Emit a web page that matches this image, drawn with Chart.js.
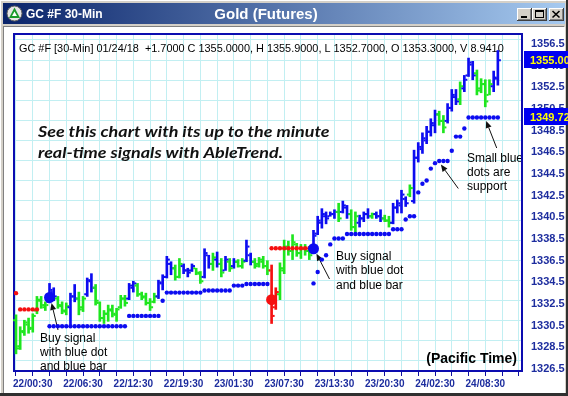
<!DOCTYPE html>
<html><head><meta charset="utf-8">
<script src="https://cdn.jsdelivr.net/npm/chart.js@4.4.1/dist/chart.umd.min.js"></script>
<style>
html,body{margin:0;padding:0;background:#d4d0c8;overflow:hidden;}
#box{position:relative;width:568px;height:396px;}
canvas{display:block;}
</style></head>
<body><div id="box"><canvas id="c" width="568" height="396"></canvas></div>
<script>
// ---------------- data ----------------
const timeLabelIdx = [4,16,28,40,52,64,76,88,100,112];
const timeLabels = ['22/00:30','22/06:30','22/12:30','22/19:30','23/01:30','23/07:30','23/13:30','23/20:30','24/02:30','24/08:30'];
const priceTicks = [1326.5,1328.5,1330.5,1332.5,1334.5,1336.5,1338.5,1340.5,1342.5,1344.5,1346.5,1348.5,1350.5,1352.5,1354.5,1356.5];

// bar colour: g = green, b = blue, r = red
const trend = ('gggggggg'+'bb'+'ggg'+'bb'+'gg'+'bb'+'gggggggg'+'bb'+'ggggg'+'bbbb'+'gg'+'bbb'+'gg'+'bb'+'g'+'b'+'g'+'b'+'g'+'b'+'gg'+'bb'+'gggg'+'rr'+'gggggggg'+'bbbbbb'+'g'+'bb'+'gg'+'bbb'+'g'+'bb'+'gg'+'bbbb'+'g'+'bbbbbb'+'gg'+'bbb'+'g'+'bbb'+'gggg'+'bb').split('');

const highs = [1331.5,1330.4,1331.0,1331.2,1331.6,1333.2,1333.2,1332.7,1334.4,1334.0,
 1333.2,1332.7,1332.6,1333.5,1334.3,1333.6,1333.2,1334.9,1335.3,1334.3,
 1332.7,1331.9,1332.4,1332.4,1332.1,1333.3,1333.3,1334.4,1334.6,1334.4,
 1333.6,1333.5,1333.0,1333.5,1334.7,1335.2,1336.9,1336.4,1336.1,1336.7,
 1336.2,1335.8,1336.2,1335.8,1335.5,1337.6,1337.0,1337.2,1337.3,1336.7,
 1336.9,1336.7,1336.7,1336.6,1336.7,1338.4,1337.2,1336.7,1336.8,1336.9,
 1336.5,1336.1,1334.0,1336.3,1338.4,1338.3,1338.9,1338.1,1338.0,1338.0,
 1337.8,1339.3,1340.6,1341.3,1341.0,1341.0,1341.2,1341.8,1342.0,1341.6,
 1341.2,1341.0,1340.7,1341.0,1341.3,1340.9,1341.0,1341.2,1340.7,1340.6,
 1341.8,1342.1,1343.0,1342.4,1343.5,1346.7,1347.4,1348.3,1348.9,1349.6,
 1350.4,1350.3,1349.9,1351.0,1352.3,1352.3,1353.0,1353.6,1355.2,1354.9,
 1354.1,1353.3,1353.2,1353.2,1354.0,1355.9];
const lows = [1327.9,1328.3,1329.6,1329.8,1329.9,1331.6,1332.1,1331.9,1332.6,1332.8,
 1332.1,1331.6,1331.5,1330.6,1332.7,1331.5,1331.8,1333.2,1333.6,1332.4,
 1330.9,1330.7,1330.9,1331.3,1330.9,1332.1,1332.3,1332.9,1333.6,1333.2,
 1332.9,1332.4,1331.9,1332.6,1333.0,1333.8,1334.9,1335.2,1334.7,1334.9,
 1335.3,1335.0,1335.5,1335.2,1334.4,1334.9,1335.8,1335.6,1335.9,1335.0,
 1335.6,1335.5,1335.8,1335.9,1335.8,1336.4,1336.1,1335.8,1335.9,1335.8,
 1335.2,1330.7,1332.0,1332.9,1335.3,1337.0,1336.6,1336.9,1336.7,1337.0,
 1336.6,1337.3,1338.9,1339.5,1339.9,1340.6,1340.4,1340.1,1340.9,1340.4,
 1339.3,1339.0,1339.6,1340.1,1340.4,1340.4,1340.4,1340.1,1340.1,1339.6,
 1339.9,1340.9,1340.9,1341.5,1342.4,1341.8,1345.6,1346.4,1347.3,1348.0,
 1348.3,1349.0,1348.3,1349.2,1350.3,1350.9,1350.9,1352.1,1353.5,1353.2,
 1351.8,1352.0,1350.7,1351.8,1352.1,1352.7];
const opens = [1331.0,1328.6,1329.9,1330.6,1330.3,1331.9,1332.8,1332.2,1332.7,1333.6,
 1333.0,1332.3,1331.8,1332.2,1333.2,1333.0,1332.2,1333.4,1334.6,1334.0,
 1332.6,1331.2,1331.6,1331.9,1331.5,1332.2,1333.0,1333.0,1334.0,1334.2,
 1333.4,1333.2,1332.6,1332.7,1333.2,1334.4,1335.0,1336.2,1335.8,1335.0,
 1336.0,1335.6,1335.6,1335.8,1335.3,1335.0,1337.0,1336.2,1336.6,1336.2,
 1335.6,1336.4,1336.0,1336.4,1336.0,1336.5,1337.0,1336.4,1336.2,1336.4,
 1336.0,1335.6,1332.2,1333.4,1335.6,1337.6,1337.4,1338.0,1337.2,1337.6,
 1337.4,1337.4,1339.0,1340.0,1340.6,1340.6,1340.8,1341.0,1341.0,1341.4,
 1340.8,1339.6,1340.0,1340.4,1340.8,1340.6,1340.8,1340.6,1340.4,1340.2,
 1340.0,1341.4,1341.6,1342.2,1342.6,1342.0,1346.0,1346.8,1347.6,1348.4,
 1349.0,1350.0,1349.4,1349.4,1350.6,1351.6,1351.4,1352.4,1353.6,1354.6,
 1353.8,1352.4,1352.8,1351.8,1352.6,1353.3];
const closes = [1328.4,1330.0,1330.8,1330.2,1331.4,1332.9,1332.4,1332.4,1333.8,1333.2,
 1332.4,1331.9,1332.3,1333.2,1333.0,1332.0,1333.0,1334.7,1334.0,1332.8,
 1331.2,1331.6,1332.0,1331.6,1332.0,1333.0,1332.6,1334.2,1334.4,1333.4,
 1333.1,1332.6,1332.2,1333.2,1334.5,1335.0,1336.6,1335.8,1335.0,1336.2,
 1335.6,1335.4,1336.0,1335.4,1334.6,1337.2,1336.2,1336.8,1336.2,1335.4,
 1336.6,1335.8,1336.4,1336.0,1336.4,1337.8,1336.4,1336.0,1336.6,1336.0,
 1335.6,1331.4,1333.6,1335.8,1337.8,1337.4,1338.2,1337.2,1337.6,1337.4,
 1337.0,1338.8,1340.2,1340.8,1340.4,1340.8,1341.0,1340.4,1341.6,1340.8,
 1339.6,1340.6,1340.4,1340.8,1340.6,1340.8,1340.6,1340.4,1340.2,1340.0,
 1341.4,1341.8,1342.6,1341.8,1343.2,1346.0,1347.0,1347.8,1348.4,1349.2,
 1350.0,1349.4,1348.8,1350.6,1351.8,1351.2,1352.6,1353.2,1354.8,1353.6,
 1352.2,1352.8,1351.2,1352.8,1353.4,1355.0];

// small blue support dots [bar index, price]
const supportDots = [
 [8,1330.45],[9,1330.45],[10,1330.45],[11,1330.45],[12,1330.45],[13,1330.45],[14,1330.45],[15,1330.45],[16,1330.45],[17,1330.45],
 [18,1330.45],[19,1330.45],[20,1330.45],[21,1330.45],[22,1330.45],[23,1330.45],[24,1330.45],[25,1330.45],[26,1330.45],
 [27,1331.4],[28,1331.4],[29,1331.4],[30,1331.4],[31,1331.4],[32,1331.4],[33,1331.4],[34,1331.4],
 [35,1332.8],
 [36,1333.55],[37,1333.55],[38,1333.55],[39,1333.55],[40,1333.55],[41,1333.55],[42,1333.55],[43,1333.55],[44,1333.55],
 [45,1333.75],[46,1333.75],[47,1333.75],[48,1333.75],[49,1333.75],[50,1333.75],[51,1333.75],
 [52,1334.2],[53,1334.2],[54,1334.2],
 [55,1334.35],[56,1334.35],[57,1334.35],[58,1334.35],[59,1334.35],[60,1334.35],
 [71,1334.4],[72,1335.45],[73,1336.6],[74,1337.0],[75,1338.0],[76,1338.55],[77,1338.55],[78,1338.55],
 [79,1338.96],[80,1338.96],[81,1338.96],[82,1338.96],[83,1338.96],[84,1338.96],[85,1338.96],[86,1338.96],[87,1338.96],[88,1338.96],[89,1338.96],
 [90,1339.4],[91,1339.4],[92,1339.4],
 [93,1340.3],[94,1340.6],[95,1340.6],
 [96,1342.8],[97,1343.6],[98,1343.9],[99,1345.0],[100,1345.5],[101,1345.7],[102,1345.7],[103,1345.7],
 [104,1346.65],[105,1347.95],[106,1347.95],[107,1348.7],
 [108,1349.72],[109,1349.72],[110,1349.72],[111,1349.72],[112,1349.72],[113,1349.72],[114,1349.72],[115,1349.72]
];
// small red resistance dots [bar index, price]
const resistDots = [
 [0,1333.5],[1,1332.0],[2,1332.0],[3,1332.0],[4,1332.0],[5,1332.0],
 [61,1337.65],[62,1337.65],[63,1337.65],[64,1337.65],[65,1337.65],[66,1337.65],[67,1337.65],[68,1337.65],[69,1337.65],[70,1337.65]
];
const buySignals = [[8,1333.1],[71,1337.6]];
const sellSignals = [[61,1332.9]];
const lastPrice = 1355.00;
const supportLevel = 1349.72;

// ---------------- styles ----------------
const COL = {b:'#0c0cf0', g:'#1ee61e', r:'#f51010'};
const AXIS_TXT = '#1d2d9e';

const chrome = {
  id:'chrome',
  beforeDraw(chart){
    const ctx = chart.ctx; ctx.save();
    ctx.fillStyle='#d4d0c8'; ctx.fillRect(0,0,568,396);
    ctx.fillStyle='#ffffff'; ctx.fillRect(0,0,568,1); ctx.fillRect(0,0,1,393);
    ctx.fillStyle='#303030'; ctx.fillRect(0,393,568,3); ctx.fillRect(566,0,2,396);
    const g = ctx.createLinearGradient(3,0,565,0);
    g.addColorStop(0,'#0a246a'); g.addColorStop(1,'#a6caf0');
    ctx.fillStyle=g; ctx.fillRect(3,3,562,21);
    // icon
    ctx.beginPath(); ctx.arc(14.5,13.5,7.5,0,Math.PI*2); ctx.fillStyle='#e6e6e6'; ctx.fill();
    ctx.strokeStyle='#606060'; ctx.lineWidth=1; ctx.stroke();
    ctx.beginPath(); ctx.moveTo(14.5,7.5); ctx.lineTo(9,18); ctx.lineTo(20,18); ctx.closePath(); ctx.fillStyle='#1a9a2a'; ctx.fill();
    ctx.beginPath(); ctx.moveTo(14.5,11.5); ctx.lineTo(12,16); ctx.lineTo(17,16); ctx.closePath(); ctx.fillStyle='#ffffff'; ctx.fill();
    // title text
    ctx.fillStyle='#ffffff'; ctx.textBaseline='alphabetic';
    ctx.font='bold 12px Arial'; ctx.textAlign='left'; ctx.fillText('GC #F 30-Min',26,18);
    ctx.font='bold 15px Arial'; ctx.textAlign='center'; ctx.fillText('Gold (Futures)',266,19);
    // buttons
    const btn=(x)=>{ctx.fillStyle='#d4d0c8';ctx.fillRect(x,8,15,13);
      ctx.fillStyle='#ffffff';ctx.fillRect(x,8,14,1);ctx.fillRect(x,8,1,12);
      ctx.fillStyle='#404040';ctx.fillRect(x,20,15,1);ctx.fillRect(x+14,8,1,13);
      ctx.fillStyle='#808080';ctx.fillRect(x+1,19,13,1);ctx.fillRect(x+13,9,1,11);};
    btn(517);btn(532);btn(549);
    ctx.fillStyle='#000';
    ctx.fillRect(521,16,6,2);
    ctx.strokeStyle='#000'; ctx.lineWidth=1; ctx.strokeRect(535.5,10.5,8,7); ctx.fillRect(536,11,8,1);
    ctx.lineWidth=1.6; ctx.beginPath(); ctx.moveTo(552.5,11); ctx.lineTo(559.5,17.5); ctx.moveTo(559.5,11); ctx.lineTo(552.5,17.5); ctx.stroke();
    // client area
    ctx.fillStyle='#808080'; ctx.fillRect(3,26,561,1); ctx.fillRect(3,26,1,367);
    ctx.fillStyle='#ffffff'; ctx.fillRect(4,27,561,366);
    ctx.restore();
  }
};

function arrow(ctx,x1,y1,x2,y2){
  const a=Math.atan2(y2-y1,x2-x1), L=7, W=3;
  const bx=x2-L*Math.cos(a), by=y2-L*Math.sin(a);
  ctx.strokeStyle='#111'; ctx.fillStyle='#111'; ctx.lineWidth=1;
  ctx.beginPath(); ctx.moveTo(x1,y1); ctx.lineTo(bx,by); ctx.stroke();
  ctx.beginPath(); ctx.moveTo(x2,y2);
  ctx.lineTo(bx+W*Math.sin(a), by-W*Math.cos(a));
  ctx.lineTo(bx-W*Math.sin(a), by+W*Math.cos(a)); ctx.closePath(); ctx.fill();
}

const texts = {
  id:'texts',
  beforeDatasetsDraw(chart){
    const ctx=chart.ctx, xs=chart.scales.x, ys=chart.scales.y, a=chart.chartArea;
    ctx.save();
    ctx.textAlign='left'; ctx.textBaseline='alphabetic'; ctx.fillStyle='#000';
    ctx.font='10.9px Arial';
    ctx.fillText('GC #F [30-Min] 01/24/18  +1.7000 C 1355.0000, H 1355.9000, L 1352.7000, O 1353.3000, V 8.9410',19,51.5);
    // italic promo text
    ctx.font='italic bold 16px Lato';
    const l1='See this chart with its up to the minute', l2='real-time signals with AbleTrend.';
    const sc = 245/ctx.measureText(l2).width;
    ctx.fillStyle='#111';
    [[l1,137],[l2,158]].forEach(([t,y])=>{ctx.save();ctx.translate(38,y);ctx.scale(sc,1);ctx.fillText(t,0,0);ctx.restore();});
    // annotations
    ctx.fillStyle='#000'; ctx.font='12px Arial';
    ['Buy signal','with blue dot','and blue bar'].forEach((t,i)=>ctx.fillText(t,40,341.5+i*14.3));
    ['Buy signal','with blue dot','and blue bar'].forEach((t,i)=>ctx.fillText(t,336,260+i*14.3));
    ['Small blue','dots are','support'].forEach((t,i)=>ctx.fillText(t,467,161.7+i*14.3));
    ctx.font='bold 14px Arial'; ctx.textAlign='right';
    ctx.fillText('(Pacific Time)',517,363);
    const p=(i,v)=>[xs.getPixelForValue(i),ys.getPixelForValue(v)];
    let [bx,by]=p(buySignals[0][0],buySignals[0][1]); arrow(ctx,58,330,bx+2,by+5.5);
    [bx,by]=p(buySignals[1][0],buySignals[1][1]); arrow(ctx,329.5,279,bx+3,by+5);
    [bx,by]=p(112.2,supportLevel); arrow(ctx,496.7,148,bx,by+3.5);
    [bx,by]=p(101.4,1345.7); arrow(ctx,458.3,188.5,bx,by+3.5);
    // frame
    ctx.strokeStyle='#0c0cb0'; ctx.lineWidth=2;
    ctx.strokeRect(a.left,a.top,a.right-a.left,a.bottom-a.top);
    ctx.restore();
  }
};

const ohlcTicks = {
  id:'ohlcTicks',
  afterDatasetDraw(chart,args){
    if(args.index!==0) return;
    const ctx=chart.ctx, xs=chart.scales.x, ys=chart.scales.y;
    ctx.save();
    for(let i=0;i<highs.length;i++){
      const px=xs.getPixelForValue(i);
      ctx.fillStyle=COL[trend[i]];
      ctx.fillRect(px-3, ys.getPixelForValue(opens[i])-1, 2, 2);
      ctx.fillRect(px+1, ys.getPixelForValue(closes[i])-1, 2, 2);
    }
    ctx.restore();
  }
};

const priceBoxes = {
  id:'priceBoxes',
  afterDraw(chart){
    const ctx=chart.ctx, ys=chart.scales.y, a=chart.chartArea;
    ctx.save();
    [[lastPrice,'1355.00'],[supportLevel,'1349.72']].forEach(([v,t])=>{
      const y=ys.getPixelForValue(v);
      ctx.fillStyle='#0000f0'; ctx.fillRect(a.right+2,Math.round(y)-9,50,17);
      ctx.fillStyle='#ffff00'; ctx.font='bold 11px Arial'; ctx.textAlign='left'; ctx.textBaseline='middle';
      ctx.fillText(t,530,y+0.5);
    });
    ctx.restore();
  }
};

const xTickVals=[]; for(let v=0;v<=120;v+=4) xTickVals.push(v);
const gridVals=[]; for(let v=-360;v<=-40;v+=20) gridVals.push(v);

new Chart(document.getElementById('c'),{
  type:'scatter',
  data:{datasets:[
    {type:'bar', data:highs.map((h,i)=>({x:i,y:[lows[i],h]})), backgroundColor:trend.map(c=>COL[c]),
     barThickness:2, borderWidth:0, grouped:false, order:5},
    {type:'scatter', data:supportDots.map(d=>({x:d[0],y:d[1]})), pointRadius:2.2, pointBackgroundColor:'#0c0cf0', pointBorderWidth:0, showLine:false, order:2},
    {type:'scatter', data:resistDots.map(d=>({x:d[0],y:d[1]})), pointRadius:2.2, pointBackgroundColor:'#f51010', pointBorderWidth:0, showLine:false, order:2},
    {type:'scatter', data:buySignals.map(d=>({x:d[0],y:d[1]})), pointRadius:5.5, pointBackgroundColor:'#0c0cf0', pointBorderWidth:0, showLine:false, order:1},
    {type:'scatter', data:sellSignals.map(d=>({x:d[0],y:d[1]})), pointRadius:5.5, pointBackgroundColor:'#f51010', pointBorderWidth:0, showLine:false, order:1}
  ]},
  options:{
    responsive:false, animation:false, devicePixelRatio:1,
    layout:{padding:{left:14,top:34,right:0,bottom:0}},
    plugins:{legend:{display:false}, tooltip:{enabled:false}},
    scales:{
      x:{type:'linear', min:-0.477, max:120.76, offset:false,
         afterBuildTicks:s=>{s.ticks=xTickVals.map(v=>({value:v}));},
         afterFit:s=>{s.height=25;},
         ticks:{autoSkip:false, maxRotation:0, minRotation:0, padding:2, color:AXIS_TXT,
                font:{family:'Arial', size:10, weight:'bold'},
                callback:v=>{const k=timeLabelIdx.indexOf(v); return k>=0?timeLabels[k]:'';}},
         grid:{color:'#c2eff2', tickColor:'#1010a0', tickLength:5, lineWidth:1, offset:false},
         border:{display:false}},
      y:{type:'linear', position:'right', min:1326.315, max:1357.423,
         afterBuildTicks:s=>{s.ticks=priceTicks.map(v=>({value:v}));},
         afterFit:s=>{s.width=46;},
         ticks:{padding:9, color:AXIS_TXT, font:{family:'Arial', size:11, weight:'bold'}, callback:v=>v.toFixed(1)},
         grid:{display:false, drawTicks:false}, border:{display:false}},
      yg:{type:'linear', position:'left', min:-371, max:-34,
         afterBuildTicks:s=>{s.ticks=gridVals.map(v=>({value:v}));},
         afterFit:s=>{s.width=0;},
         ticks:{display:false}, grid:{color:'#c2eff2', drawTicks:false, lineWidth:1}, border:{display:false}}
    }
  },
  plugins:[chrome, texts, ohlcTicks, priceBoxes]
});
</script>
</body></html>
